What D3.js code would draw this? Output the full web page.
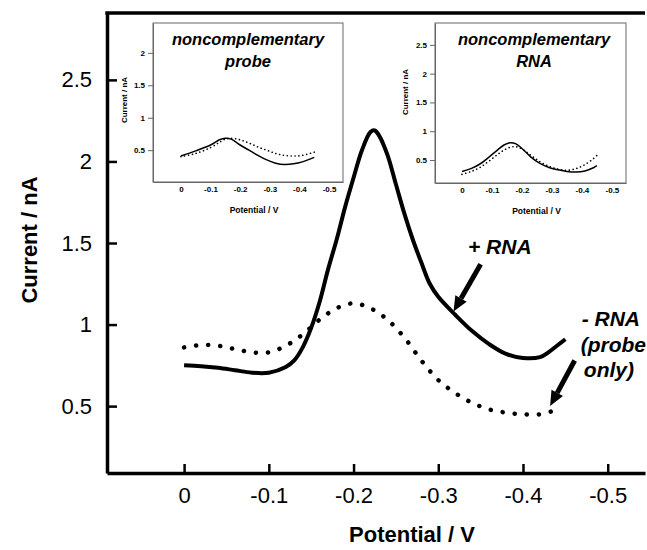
<!DOCTYPE html>
<html>
<head>
<meta charset="utf-8">
<style>
  body { margin: 0; background: #fff; }
  svg { display: block; font-family: "Liberation Sans", Arial, sans-serif; }
  .main-axis .domain { stroke: #000; stroke-width: 3.5px; }
  .main-axis .tick line { stroke: #000; stroke-width: 2.5px; }
  .main-axis text { font-size: 22px; fill: #000; }
  .inset-axis .domain { stroke: #666; stroke-width: 1px; }
  .inset-axis .tick line { stroke: #666; stroke-width: 1px; }
  .inset-axis text { font-size: 8px; font-weight: bold; fill: #000; }
  .title { font-weight: bold; fill: #000; }
  .note { font-weight: bold; font-style: italic; font-size: 21px; fill: #000; }
</style>
</head>
<body>
<script src="https://d3js.org/d3.v7.min.js"></script>
<script>
// main chart data (Potential / V, Current / nA)
var plusRnaV = [0, -0.02, -0.04, -0.06, -0.08, -0.10, -0.12, -0.13, -0.14, -0.15, -0.16, -0.17, -0.18, -0.19, -0.20,
                -0.21, -0.22, -0.225, -0.23, -0.24, -0.25, -0.26, -0.27, -0.28, -0.29, -0.30, -0.32, -0.34, -0.36,
                -0.38, -0.40, -0.42, -0.43, -0.44, -0.45];
var plusRnaI = [0.75, 0.745, 0.735, 0.72, 0.705, 0.705, 0.74, 0.78, 0.86, 0.98, 1.14, 1.34, 1.52, 1.72, 1.90,
                2.07, 2.18, 2.19, 2.16, 2.04, 1.86, 1.68, 1.52, 1.38, 1.25, 1.17, 1.06, 0.96, 0.88,
                0.82, 0.795, 0.80, 0.83, 0.87, 0.91];
var probeOnlyV = [0, -0.02, -0.04, -0.06, -0.08, -0.10, -0.12, -0.14, -0.16, -0.18, -0.20, -0.22, -0.24, -0.26,
                  -0.28, -0.30, -0.32, -0.34, -0.36, -0.38, -0.40, -0.42, -0.435];
var probeOnlyI = [0.86, 0.875, 0.87, 0.85, 0.83, 0.83, 0.87, 0.94, 1.03, 1.10, 1.13, 1.10, 1.03, 0.92,
                  0.78, 0.66, 0.58, 0.52, 0.48, 0.46, 0.45, 0.45, 0.47];

var mainXTicks = [0, -0.1, -0.2, -0.3, -0.4, -0.5];
var mainYTicks = [0.5, 1, 1.5, 2, 2.5];

// inset 1: noncomplementary probe
var inset1V = [0, -0.05, -0.10, -0.13, -0.15, -0.17, -0.20, -0.23, -0.26, -0.29, -0.32, -0.35, -0.38, -0.41, -0.45];
var inset1Solid = [0.41, 0.49, 0.58, 0.66, 0.685, 0.67, 0.58, 0.50, 0.42, 0.35, 0.30, 0.28, 0.29, 0.32, 0.39];
var inset1Dotted = [0.40, 0.45, 0.54, 0.62, 0.67, 0.685, 0.66, 0.61, 0.55, 0.50, 0.45, 0.42, 0.41, 0.42, 0.47];
var inset1YTicks = [0.5, 1, 1.5, 2];

// inset 2: noncomplementary RNA
var inset2V = [0, -0.03, -0.06, -0.09, -0.12, -0.14, -0.16, -0.18, -0.20, -0.23, -0.26, -0.29, -0.32, -0.35,
               -0.38, -0.41, -0.44, -0.45];
var inset2Solid = [0.30, 0.35, 0.43, 0.55, 0.68, 0.76, 0.80, 0.78, 0.70, 0.55, 0.44, 0.37, 0.33, 0.30,
                   0.29, 0.31, 0.37, 0.40];
var inset2Dotted = [0.25, 0.30, 0.37, 0.48, 0.60, 0.67, 0.72, 0.73, 0.69, 0.58, 0.47, 0.39, 0.34, 0.32,
                    0.35, 0.42, 0.53, 0.58];
var inset2YTicks = [0.5, 1, 1.5, 2, 2.5];
var insetXTicks = [0, -0.1, -0.2, -0.3, -0.4, -0.5];

var fmtV = function(d) { return d === 0 ? "0" : d.toFixed(1); };
var fmtI = function(d) { return String(d); };

var svg = d3.select("body").append("svg")
    .attr("width", 647)
    .attr("height", 550);

// main scales
var x = d3.scaleLinear().domain([0.091, -0.544]).range([107, 645]);
var y = d3.scaleLinear().domain([0.09, 2.91]).range([473, 13]);

// top border
svg.append("line")
    .attr("x1", x.range()[0] - 1.7).attr("x2", x.range()[1])
    .attr("y1", y.range()[1]).attr("y2", y.range()[1])
    .attr("stroke", "#000").attr("stroke-width", 3.5);

svg.append("g")
    .attr("class", "main-axis")
    .attr("transform", "translate(0," + y.range()[0] + ")")
    .call(d3.axisBottom(x).tickValues(mainXTicks).tickFormat(fmtV)
        .tickSizeInner(-9).tickSizeOuter(0).tickPadding(14));

svg.append("g")
    .attr("class", "main-axis")
    .attr("transform", "translate(" + x.range()[0] + ",0)")
    .call(d3.axisLeft(y).tickValues(mainYTicks).tickFormat(fmtI)
        .tickSizeInner(-10).tickSizeOuter(0).tickPadding(15));

// axis titles
svg.append("text")
    .attr("class", "title")
    .attr("x", 412).attr("y", 542)
    .attr("text-anchor", "middle")
    .style("font-size", "22px")
    .text("Potential / V");

svg.append("text")
    .attr("class", "title")
    .attr("transform", "translate(37,240) rotate(-90)")
    .attr("text-anchor", "middle")
    .style("font-size", "22px")
    .text("Current / nA");

function pairs(vs, is) { return vs.map(function(v, k) { return [v, is[k]]; }); }

var mainLine = d3.line()
    .x(function(d) { return x(d[0]); })
    .y(function(d) { return y(d[1]); })
    .curve(d3.curveCatmullRom);

svg.append("path")
    .attr("d", mainLine(pairs(probeOnlyV, probeOnlyI)))
    .attr("fill", "none")
    .attr("stroke", "#000")
    .attr("stroke-width", 4.5)
    .attr("stroke-linecap", "round")
    .attr("stroke-dasharray", "0.1 12");

svg.append("path")
    .attr("d", mainLine(pairs(plusRnaV, plusRnaI)))
    .attr("fill", "none")
    .attr("stroke", "#000")
    .attr("stroke-width", 4)
    .attr("stroke-linejoin", "round");

// arrows (tail -> tip, in data units)
function arrow(tail, tip) {
  var x0 = x(tail[0]), y0 = y(tail[1]), x1 = x(tip[0]), y1 = y(tip[1]);
  var ang = Math.atan2(y1 - y0, x1 - x0);
  var len = 15, half = 6.5;
  var bx = x1 - len * Math.cos(ang), by = y1 - len * Math.sin(ang);
  svg.append("line")
      .attr("x1", x0).attr("y1", y0).attr("x2", bx).attr("y2", by)
      .attr("stroke", "#000").attr("stroke-width", 5);
  svg.append("path")
      .attr("d", "M" + x1 + "," + y1 +
        "L" + (bx + half * Math.sin(ang)) + "," + (by - half * Math.cos(ang)) +
        "L" + (bx - half * Math.sin(ang)) + "," + (by + half * Math.cos(ang)) + "Z")
      .attr("fill", "#000");
}
arrow([-0.350, 1.37], [-0.318, 1.08]);
arrow([-0.461, 0.78], [-0.432, 0.50]);

svg.append("text").attr("class", "note").attr("x", 468).attr("y", 254).text("+ RNA");
svg.append("text").attr("class", "note").attr("x", 640).attr("y", 326).attr("text-anchor", "end").text("- RNA");
svg.append("text").attr("class", "note").attr("x", 646).attr("y", 352).attr("text-anchor", "end").text("(probe");
svg.append("text").attr("class", "note").attr("x", 634).attr("y", 377).attr("text-anchor", "end").text("only)");

// insets
function drawInset(o) {
  var ix = d3.scaleLinear().domain(o.xDomain).range([o.left, o.right]);
  var iy = d3.scaleLinear().domain(o.yDomain).range([o.bottom, o.top]);
  var g = svg.append("g");

  g.append("rect")
      .attr("x", o.left).attr("y", o.top)
      .attr("width", o.right - o.left).attr("height", o.bottom - o.top)
      .attr("fill", "#fff").attr("stroke", "#666").attr("stroke-width", 1);

  g.append("g")
      .attr("class", "inset-axis")
      .attr("transform", "translate(0," + o.bottom + ")")
      .call(d3.axisBottom(ix).tickValues(insetXTicks).tickFormat(fmtV).tickSizeInner(0).tickSizeOuter(0).tickPadding(4));

  g.append("g")
      .attr("class", "inset-axis")
      .attr("transform", "translate(" + o.left + ",0)")
      .call(d3.axisLeft(iy).tickValues(o.yTicks).tickFormat(fmtI).tickSizeInner(5).tickSizeOuter(0).tickPadding(3));

  g.append("text")
      .attr("x", (o.left + o.right) / 2 + 6).attr("y", o.bottom + 31)
      .attr("text-anchor", "middle")
      .style("font-size", "8.5px").style("font-weight", "bold")
      .text("Potential / V");

  g.append("text")
      .attr("transform", "translate(" + o.ylabX + "," + o.ylabY + ") rotate(-90)")
      .attr("text-anchor", "middle")
      .style("font-size", "8px").style("font-weight", "bold")
      .text("Current / nA");

  o.title.forEach(function(t, k) {
    g.append("text")
        .attr("class", "note")
        .attr("x", o.titleX).attr("y", o.top + 22 + k * 22)
        .attr("text-anchor", "middle")
        .style("font-size", "16.5px")
        .text(t);
  });

  var line = d3.line()
      .x(function(d) { return ix(d[0]); })
      .y(function(d) { return iy(d[1]); })
      .curve(d3.curveCatmullRom);

  g.append("path")
      .attr("d", line(pairs(o.v, o.dotted)))
      .attr("fill", "none").attr("stroke", "#000")
      .attr("stroke-width", 1.6).attr("stroke-linecap", "round")
      .attr("stroke-dasharray", "0.1 3.8");

  g.append("path")
      .attr("d", line(pairs(o.v, o.solid)))
      .attr("fill", "none").attr("stroke", "#000")
      .attr("stroke-width", 1.5);
}

drawInset({
  left: 153, right: 343, top: 23, bottom: 182,
  xDomain: [0.094, -0.547], yDomain: [0.01, 2.46], yTicks: inset1YTicks,
  v: inset1V, solid: inset1Solid, dotted: inset1Dotted,
  title: ["noncomplementary", "probe"], titleX: 248,
  ylabX: 127, ylabY: 100
});

drawInset({
  left: 435, right: 626, top: 23, bottom: 183,
  xDomain: [0.09, -0.547], yDomain: [0.1, 2.88], yTicks: inset2YTicks,
  v: inset2V, solid: inset2Solid, dotted: inset2Dotted,
  title: ["noncomplementary", "RNA"], titleX: 534,
  ylabX: 408, ylabY: 92
});
</script>
</body>
</html>
